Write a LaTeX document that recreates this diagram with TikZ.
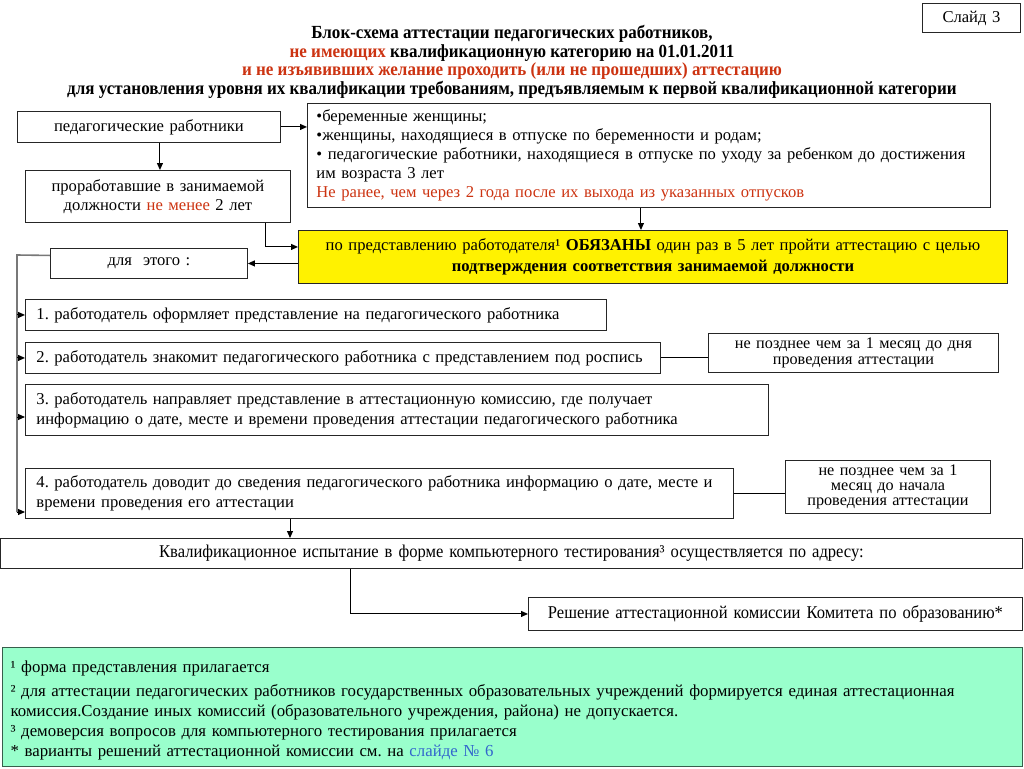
\documentclass[tikz,border=0pt]{standalone}
\usepackage{fontspec}
\setmainfont{Liberation Serif}
\newfontfamily\narrowserif{Liberation Serif}[FakeStretch=0.92]
\usetikzlibrary{arrows.meta, positioning}

\definecolor{redtext}{RGB}{204,51,17}
\definecolor{bluetext}{RGB}{51,102,204}
\definecolor{notegreen}{RGB}{153,255,204}
\definecolor{noteframe}{RGB}{55,95,75}
\definecolor{railgray}{RGB}{120,120,120}

\frenchspacing

\begin{document}
\begin{tikzpicture}[
    x=1pt, y=-1pt,
    font=\fontsize{16.6}{19}\selectfont,
    box/.style={
        draw=black!85,
        line width=0.9pt,
        anchor=north west,
        inner xsep=8pt,
        inner ysep=0pt,
        align=center
    },
    leftbox/.style={box, align=left, inner xsep=11pt},
    arrow/.style={-{Triangle[length=7pt,width=6pt]}, line width=1pt},
    link/.style={line width=1pt},
    rail/.style={draw=railgray, line width=1.6pt}
]

\useasboundingbox (0,0) rectangle (1024,768);

% ------------------------
% Heading
% ------------------------
\node[box, minimum width=98pt, minimum height=29pt, text width=82pt] (slide) at (922,3) {Слайд 3};

\node[align=center, font=\narrowserif\bfseries\fontsize{18.5}{18.5}\selectfont] (title) at (512,62) {
Блок-схема аттестации педагогических работников,\\
\textcolor{redtext}{не имеющих} квалификационную категорию на 01.01.2011\\
\textcolor{redtext}{и не изъявивших желание проходить (или не прошедших) аттестацию}\\
для установления уровня их квалификации требованиям, предъявляемым к первой квалификационной категории
};

% ------------------------
% Who is attested
% ------------------------
\node[box, minimum width=263pt, minimum height=31pt, text width=247pt] (workers) at (17,111) {
педагогические работники
};

\node[leftbox, minimum width=683pt, minimum height=104pt, text width=665pt, inner xsep=9pt] (leave) at (307,103) {
•беременные женщины;\\
•женщины, находящиеся в отпуске по беременности и родам;\\
• педагогические работники, находящиеся в отпуске по уходу за ребенком до достижения\\
им возраста 3 лет\\
\textcolor{redtext}{Не ранее, чем через 2 года после их выхода из указанных отпусков}
};

\node[box, minimum width=265pt, minimum height=52pt, text width=249pt] (experience) at (25,170) {
проработавшие в занимаемой\\
должности \textcolor{redtext}{не менее} 2 лет
};

% ------------------------
% Obligation
% ------------------------
\node[box, fill=yellow, minimum width=709pt, minimum height=53pt, text width=693pt, font=\fontsize{16.6}{21}\selectfont] (duty) at (298,230) {
по представлению работодателя¹ \textbf{ОБЯЗАНЫ} один раз в 5 лет пройти аттестацию с целью\\
\textbf{подтверждения соответствия занимаемой должности}
};

\node[box, minimum width=197pt, minimum height=30pt, text width=181pt] (forthis) at (50,248) {
для~~этого :
};

% ------------------------
% Steps
% ------------------------
\node[leftbox, minimum width=581pt, minimum height=31pt, text width=559pt] (step1) at (25,299) {
1. работодатель оформляет представление на педагогического работника
};

\node[leftbox, minimum width=635pt, minimum height=31pt, text width=613pt] (step2) at (25,342) {
2. работодатель знакомит педагогического работника с представлением под роспись
};

\node[leftbox, minimum width=743pt, minimum height=51pt, text width=721pt, font=\fontsize{16.6}{20}\selectfont] (step3) at (25,384) {
3. работодатель направляет представление в аттестационную комиссию, где получает\\
информацию о дате, месте и времени проведения аттестации педагогического работника
};

\node[leftbox, minimum width=708pt, minimum height=50pt, text width=686pt, font=\fontsize{16.6}{20}\selectfont] (step4) at (25,468) {
4. работодатель доводит до сведения педагогического работника информацию о дате, месте и\\
времени проведения его аттестации
};

% ------------------------
% Deadlines
% ------------------------
\node[box, minimum width=290pt, minimum height=39pt, text width=274pt, font=\fontsize{16.2}{15.5}\selectfont] (term1) at (708,333) {
не позднее чем за 1 месяц до дня\\
проведения аттестации
};

\node[box, minimum width=205pt, minimum height=53pt, text width=189pt, font=\fontsize{16.2}{15}\selectfont] (term2) at (785,460) {
не позднее чем за 1\\
месяц до начала\\
проведения аттестации
};

% ------------------------
% Testing and decision
% ------------------------
\node[box, minimum width=1022pt, minimum height=30pt, text width=1006pt, font=\narrowserif\fontsize{18}{20}\selectfont] (testing) at (0,538) {
Квалификационное испытание в форме компьютерного тестирования³ осуществляется по адресу:
};

\node[box, minimum width=494pt, minimum height=33pt, text width=478pt, font=\narrowserif\fontsize{18}{20}\selectfont] (decision) at (528,597) {
Решение аттестационной комиссии Комитета по образованию*
};

% ------------------------
% Footnotes
% ------------------------
\node[leftbox, draw=noteframe, fill=notegreen, line width=1.2pt, minimum width=1020pt, minimum height=119pt, text width=1004pt, inner xsep=8pt, font=\fontsize{16.8}{20}\selectfont] (notes) at (2,647) {
\rule{0pt}{19pt}¹ форма представления прилагается\\[4pt]
² для аттестации педагогических работников государственных образовательных учреждений формируется единая аттестационная\\
комиссия.Создание иных комиссий (образовательного учреждения, района) не допускается.\\
³ демоверсия вопросов для компьютерного тестирования прилагается\\
{}* варианты решений аттестационной комиссии см. на \textcolor{bluetext}{слайде № 6}
};

% ------------------------
% Arrows
% ------------------------
\draw[arrow] (workers.east) -- (workers.east -| leave.west);
\draw[arrow] ([xshift=11pt]workers.south) -- ([xshift=11pt]workers.south |- experience.north);
\draw[arrow] ([xshift=-25pt]experience.south east) |- ([yshift=10pt]duty.west);
\draw[arrow] ([xshift=-8pt]leave.south) -- ([xshift=-8pt]leave.south |- duty.north);
\draw[arrow] (forthis.east -| duty.west) -- (forthis.east);

% rail down the left side
\coordinate (railtop) at (17,255);
\draw[rail] ([yshift=8pt]forthis.west) -- (railtop) -- (railtop |- 0,512);
\draw[arrow] (railtop |- step1.west) -- (step1.west);
\draw[arrow] (railtop |- step2.west) -- (step2.west);
\draw[arrow] (railtop |- 0,417) -- (step3.west |- 0,417);
\draw[arrow] (railtop |- 0,512) -- (step4.west |- 0,512);

\draw[link] (step2.east) -- (step2.east -| term1.west);
\draw[link] (step4.east) -- (step4.east -| term2.west);

\draw[arrow] ([xshift=265pt]step4.south west) -- ([xshift=265pt]step4.south west |- testing.north);
\draw[arrow] ([xshift=350pt]testing.south west) |- (decision.west);

\end{tikzpicture}
\end{document}
